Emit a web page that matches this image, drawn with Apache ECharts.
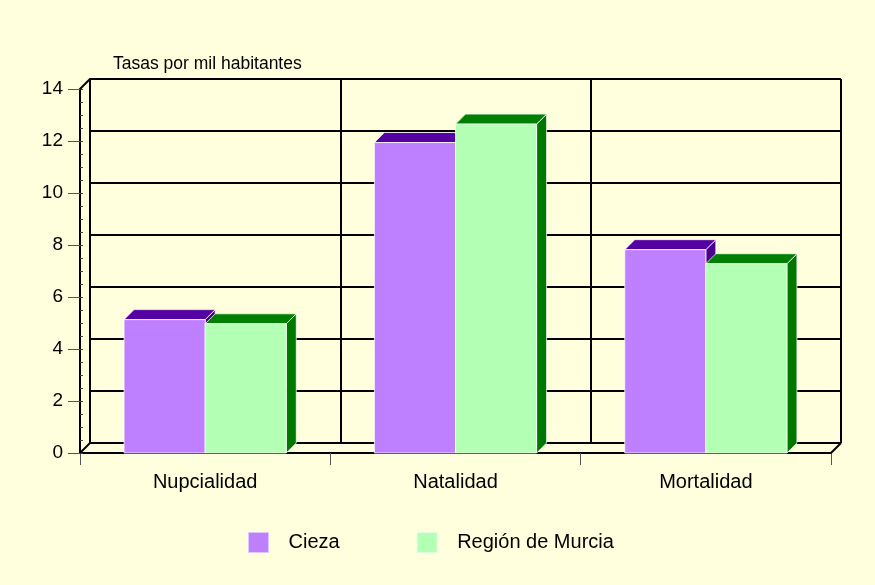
<!DOCTYPE html>
<html>
<head>
<meta charset="utf-8">
<script src="https://cdn.jsdelivr.net/npm/echarts@6/dist/echarts.min.js"></script>
<style>
html,body{margin:0;padding:0;background:#FFFFDD;}
#c{width:875px;height:585px;}
</style>
</head>
<body>
<div id="c"></div>
<script>
const categories = ['Nupcialidad', 'Natalidad', 'Mortalidad'];
const seriesNames = ['Cieza', 'Región de Murcia'];
const ciezaValues = [5.13, 11.94, 7.82];
const murciaValues = [4.97, 12.65, 7.28];
const yTicks = [0, 2, 4, 6, 8, 10, 12, 14];
const yAxisTitle = 'Tasas por mil habitantes';

const FONT = '"Liberation Sans", Arial, sans-serif';
const DEPTH = 10;
const BAR_FRAC = 0.324;
const colors = {
  cieza: { front: '#BF80FF', top: '#5500A2', side: '#4A008E' },
  murcia: { front: '#B3FFB3', top: '#008000', side: '#007800' }
};

function barRenderer(which) {
  const c = which === 0 ? colors.cieza : colors.murcia;
  return function (params, api) {
    const idx = api.value(0);
    const val = api.value(1);
    const base = api.coord([idx, 0]);
    const top = api.coord([idx, val]);
    const band = api.size([1, 0])[0];
    const w = band * BAR_FRAC;
    const x0 = which === 0 ? base[0] - w : base[0];
    const x1 = x0 + w;
    const yb = base[1];
    const yt = top[1];
    const d = DEPTH;
    const edge = { stroke: 'rgba(255,255,255,0.75)', lineWidth: 1 };
    return {
      type: 'group',
      children: [
        { type: 'polygon', shape: { points: [[x1, yt], [x1 + d, yt - d], [x1 + d, yb - d], [x1, yb]] },
          style: Object.assign({ fill: c.side }, edge) },
        { type: 'polygon', shape: { points: [[x0, yt], [x0 + d, yt - d], [x1 + d, yt - d], [x1, yt]] },
          style: Object.assign({ fill: c.top }, edge) },
        { type: 'rect', shape: { x: x0, y: yt, width: w, height: yb - yt },
          style: Object.assign({ fill: c.front }, edge) }
      ]
    };
  };
}

function frameRenderer(params, api) {
  const band = api.size([1, 0])[0];
  const bl = api.coord([0, 0]);
  const tl = api.coord([0, yTicks[yTicks.length - 1]]);
  const br = api.coord([categories.length - 1, 0]);
  const xl = bl[0] - band / 2;
  const xr = br[0] + band / 2;
  const d = DEPTH;
  const st = { stroke: '#000', lineWidth: 2 };
  return {
    type: 'group',
    children: [
      { type: 'line', shape: { x1: xl, y1: bl[1], x2: xl + d, y2: bl[1] - d }, style: st },
      { type: 'line', shape: { x1: xl, y1: tl[1], x2: xl + d, y2: tl[1] - d }, style: st },
      { type: 'line', shape: { x1: xr, y1: bl[1], x2: xr + d, y2: bl[1] - d }, style: st }
    ]
  };
}

const chart = echarts.init(document.getElementById('c'), null, { renderer: 'canvas' });
const ymax = yTicks[yTicks.length - 1];

chart.setOption({
  backgroundColor: '#FFFFDD',
  animation: false,
  textStyle: { fontFamily: FONT },
  title: {
    text: yAxisTitle, left: 113, top: 55, padding: 0,
    textStyle: { fontFamily: FONT, fontSize: 17.5, fontWeight: 'normal', color: '#000' }
  },
  legend: {
    left: 248, top: 532, padding: 0,
    icon: 'rect', itemWidth: 20, itemHeight: 20, itemGap: 77,
    textStyle: { fontFamily: FONT, fontSize: 20, color: '#000', padding: [0, 0, 0, 15] },
    data: [
      { name: seriesNames[0], itemStyle: { color: colors.cieza.front, borderColor: '#E0C8FF', borderWidth: 1 } },
      { name: seriesNames[1], itemStyle: { color: colors.murcia.front, borderColor: '#E0FFE0', borderWidth: 1 } }
    ]
  },
  grid: [
    { left: 80, right: 44, top: 89, bottom: 132 },
    { left: 90, right: 34, top: 79, bottom: 142 }
  ],
  xAxis: [
    { type: 'category', gridIndex: 0, data: categories,
      axisLine: { lineStyle: { color: '#000', width: 2 } },
      axisTick: { show: true, length: 12, lineStyle: { color: '#555', width: 1 } },
      axisLabel: { fontFamily: FONT, fontSize: 20, color: '#000', margin: 19 },
      splitLine: { show: false } },
    { type: 'category', gridIndex: 1, data: categories,
      axisLine: { show: false }, axisTick: { show: false }, axisLabel: { show: false },
      splitLine: { show: true, interval: 0, lineStyle: { color: '#000', width: 2 } } }
  ],
  yAxis: [
    { type: 'value', gridIndex: 0, min: 0, max: ymax, interval: 2, position: 'left',
      axisLine: { show: true, lineStyle: { color: '#000', width: 2 } },
      axisTick: { show: true, length: 12, lineStyle: { color: '#555', width: 1 } },
      axisLabel: { fontFamily: FONT, fontSize: 19, color: '#000', margin: 17 },
      splitLine: { show: false } },
    { type: 'value', gridIndex: 1, min: 0, max: ymax, interval: 2, position: 'left',
      axisLine: { show: true, lineStyle: { color: '#000', width: 2 } },
      axisTick: { show: false }, axisLabel: { show: false },
      splitLine: { show: true, lineStyle: { color: '#000', width: 2 } } },
    { type: 'value', gridIndex: 0, min: 0, max: ymax, interval: 0.5, position: 'left', offset: 0,
      axisLine: { show: false, onZero: false },
      axisTick: { show: true, inside: true, length: 3, lineStyle: { color: '#444', width: 1 } },
      axisLabel: { show: false }, splitLine: { show: false } }
  ],
  series: [
    { type: 'custom', name: 'frame', xAxisIndex: 0, yAxisIndex: 0, data: [[0]],
      renderItem: frameRenderer, z: 3, clip: false, silent: true },
    { type: 'custom', name: seriesNames[0], xAxisIndex: 0, yAxisIndex: 0,
      itemStyle: { color: colors.cieza.front },
      data: ciezaValues.map((v, i) => [i, v]), encode: { x: 0, y: 1 },
      renderItem: barRenderer(0), z: 5, clip: false },
    { type: 'custom', name: seriesNames[1], xAxisIndex: 0, yAxisIndex: 0,
      itemStyle: { color: colors.murcia.front },
      data: murciaValues.map((v, i) => [i, v]), encode: { x: 0, y: 1 },
      renderItem: barRenderer(1), z: 6, clip: false }
  ]
});
</script>
</body>
</html>
